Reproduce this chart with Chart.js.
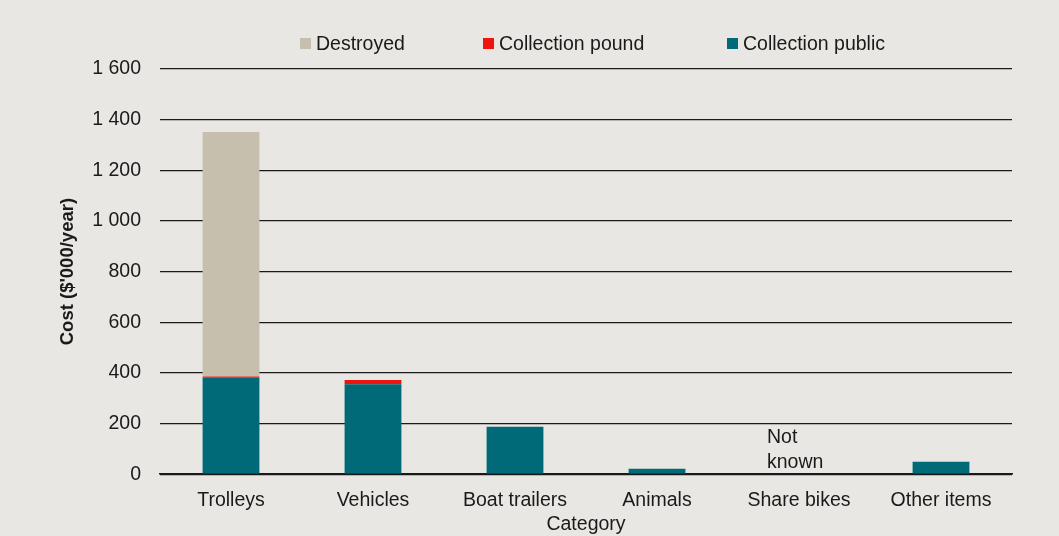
<!DOCTYPE html>
<html>
<head>
<meta charset="utf-8">
<script src="https://cdn.jsdelivr.net/npm/chart.js@4"></script>
<style>
    html, body { margin: 0; padding: 0; background: #e8e7e3; }
    #wrap { width: 1059px; height: 536px; }
</style>
</head>
<body>
<div id="wrap"><canvas id="costChart" width="1059" height="536"></canvas></div>
<script>
// Chart data
const categories = ["Trolleys", "Vehicles", "Boat trailers", "Animals", "Share bikes", "Other items"];
const collectionPublic = [381, 355, 187, 22, null, 49];
const collectionPound = [5, 17, 0, 0, null, 0];
const destroyed = [965, 0, 0, 0, null, 0];
const yTicks = [0, 200, 400, 600, 800, 1000, 1200, 1400, 1600];
const notKnownIndex = 4;
const notKnownLines = ["Not", "known"];

const FONT = "'Liberation Sans', Arial, sans-serif";
const TXT = 19.5;

// Format numbers with a space as the thousands separator
const fmt = (v) => String(v).replace(/\B(?=(\d{3})+(?!\d))/g, " ");

// Custom legend + "Not known" note
const extrasPlugin = {
    id: "extras",
    afterDraw(chart) {
        const ctx = chart.ctx;
        ctx.save();
        ctx.font = TXT + "px " + FONT;
        ctx.textBaseline = "middle";

        // legend, drawn in reverse stack order
        const legendX = [300, 483, 727];
        const ds = chart.data.datasets.slice().reverse();
        ds.forEach((d, i) => {
            ctx.fillStyle = d.backgroundColor;
            ctx.fillRect(legendX[i], 38, 11, 11);
            ctx.fillStyle = "#1a1a1a";
            ctx.textAlign = "left";
            ctx.fillText(d.label, legendX[i] + 16, 45);
        });

        // "Not known" annotation
        const xs = chart.scales.x;
        const cx = xs.getPixelForValue(notKnownIndex);
        ctx.textAlign = "left";
        notKnownLines.forEach((line, i) => {
            ctx.fillText(line, cx - 32, 438 + i * 25);
        });
        ctx.restore();
    }
};

const ctx = document.getElementById("costChart").getContext("2d");
new Chart(ctx, {
    type: "bar",
    data: {
        labels: categories,
        datasets: [
            { label: "Collection public", data: collectionPublic, backgroundColor: "#006a78" },
            { label: "Collection pound", data: collectionPound, backgroundColor: "#f0150c" },
            { label: "Destroyed", data: destroyed, backgroundColor: "#c6bfae" }
        ]
    },
    options: {
        responsive: false,
        animation: false,
        layout: { padding: { top: 69, right: 47, bottom: 0, left: 57 } },
        plugins: {
            legend: { display: false },
            tooltip: { enabled: false }
        },
        datasets: {
            bar: { barPercentage: 0.4, categoryPercentage: 1.0 }
        },
        scales: {
            x: {
                stacked: true,
                grid: { display: false, drawTicks: false },
                border: { display: true, color: "#1a1a1a", width: 1.5 },
                ticks: {
                    color: "#1a1a1a",
                    font: { family: FONT, size: TXT },
                    padding: 15,
                    maxRotation: 0
                },
                title: {
                    display: true,
                    text: "Category",
                    color: "#1a1a1a",
                    font: { family: FONT, size: TXT },
                    padding: { top: -15, bottom: 0 }
                }
            },
            y: {
                stacked: true,
                min: 0,
                max: 1600,
                afterBuildTicks(scale) {
                    scale.ticks = yTicks.map(v => ({ value: v }));
                },
                afterFit(scale) { scale.width = 103; },
                grid: { color: "#1a1a1a", lineWidth: 1.2, drawTicks: false },
                border: { display: false },
                ticks: {
                    color: "#1a1a1a",
                    font: { family: FONT, size: TXT },
                    padding: 19,
                    callback: (v) => fmt(v)
                },
                title: {
                    display: true,
                    text: "Cost ($'000/year)",
                    color: "#1a1a1a",
                    font: { family: FONT, size: 18.5, weight: "bold" },
                    padding: { top: 0, bottom: 0 }
                }
            }
        }
    },
    plugins: [extrasPlugin]
});
</script>
</body>
</html>
